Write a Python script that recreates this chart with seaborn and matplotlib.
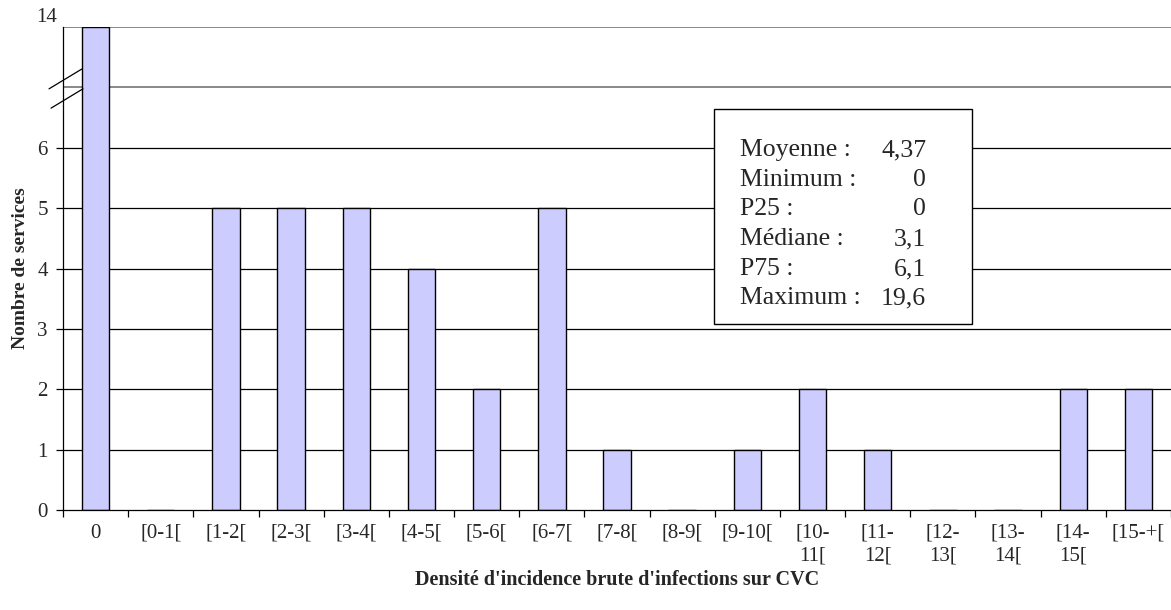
import numpy as np
import pandas as pd
import matplotlib
matplotlib.use("Agg")
import matplotlib.pyplot as plt
import matplotlib.transforms as mtransforms
from matplotlib.patches import Rectangle
import seaborn as sns

# Incidence-density classes and number of wards in each
categories = ["0", "[0-1[", "[1-2[", "[2-3[", "[3-4[", "[4-5[", "[5-6[", "[6-7[",
              "[7-8[", "[8-9[", "[9-10[", "[10-\n11[", "[11-\n12[", "[12-\n13[",
              "[13-\n14[", "[14-\n15[", "[15-+["]
counts = [14, 0, 5, 5, 5, 4, 2, 5, 1, 0, 1, 2, 1, 0, 0, 2, 2]

# Summary statistics shown in the inset box
stat_labels = ["Moyenne :", "Minimum :", "P25 :", "Médiane :", "P75 :", "Maximum :"]
stat_values = ["4,37", "0", "0", "3,1", "6,1", "19,6"]

y_ticks = [0, 1, 2, 3, 4, 5, 6]
y_break = 7
y_top = 14

sns.set_theme(style="white")
plt.rcParams["font.family"] = ["Liberation Serif", "DejaVu Serif"]

df = pd.DataFrame({"classe": categories, "services": counts})

fig = plt.figure(figsize=(11.71, 6.10), dpi=100)
ax = fig.add_axes([63 / 1171, 100 / 610, 1108 / 1171, 483 / 610])

sns.barplot(data=df, x="classe", y="services", ax=ax, color="#CCCCFF",
            saturation=1, width=0.42, edgecolor="black", linewidth=1.0,
            zorder=3)
for p in ax.patches:
    p.set_facecolor("#CCCCFF")


# Broken axis: linear up to the break, compressed above it
def fwd(v):
    v = np.asarray(v, dtype=float)
    return np.where(v <= y_break, v, y_break + (v - y_break) / (y_top - y_break))


def inv(u):
    u = np.asarray(u, dtype=float)
    return np.where(u <= y_break, u, y_break + (u - y_break) * (y_top - y_break))


ax.set_yscale("function", functions=(fwd, inv))
ax.set_ylim(0, y_top)
ax.set_xlim(-0.5, len(categories) - 0.5)

# Horizontal gridlines
for v in y_ticks[1:]:
    ax.axhline(v, color="black", lw=0.9, zorder=1)
for v in (y_break, y_top):
    ax.axhline(v, color="#7f7f7f", lw=1.3, zorder=1)

tick_fs = 15

# Y ticks
ax.set_yticks(y_ticks)
ax.set_yticklabels([str(t) for t in y_ticks])
ax.yaxis.set_minor_locator(matplotlib.ticker.NullLocator())
ax.tick_params(axis="y", which="major", left=True, length=5, width=0.9,
               color="black", pad=6, labelsize=tick_fs)
top_tr = mtransforms.offset_copy(ax.get_yaxis_transform(), fig=fig,
                                 x=0, y=9, units="dots")
ax.text(-0.0055, y_top, str(y_top), transform=top_tr,
        ha="right", va="center", fontsize=tick_fs)

# X ticks at class boundaries, labels at class centres
n = len(categories)
ax.set_xticks(np.arange(-0.5, n, 1.0))
ax.set_xticklabels([""] * (n + 1))
ax.set_xticks(np.arange(n), minor=True)
ax.set_xticklabels(categories, minor=True, fontsize=tick_fs, linespacing=1.25)
ax.tick_params(axis="x", which="major", bottom=True, length=5, width=0.9,
               color="black")
ax.tick_params(axis="x", which="minor", bottom=False, length=0, pad=10)
for lbl in ax.get_xticklabels(minor=True):
    lbl.set_verticalalignment("top")

for side in ("top", "right"):
    ax.spines[side].set_visible(False)
for side in ("left", "bottom"):
    ax.spines[side].set_color("black")
    ax.spines[side].set_linewidth(0.9)
    ax.spines[side].set_zorder(4)

ax.set_xlabel("Densité d'incidence brute d'infections sur CVC",
              fontsize=14.5, fontweight="bold", labelpad=3)
ax.set_ylabel("Nombre de services", fontsize=14, fontweight="bold",
              labelpad=6)

# Break marks on the y axis
for (x0, y0, x1, y1) in [(-0.0126, 0.872, 0.017, 0.913),
                         (-0.0108, 0.832, 0.018, 0.872)]:
    ax.plot([x0, x1], [y0, y1], transform=ax.transAxes, color="black",
            lw=0.9, clip_on=False, zorder=5)

# Statistics box
box = Rectangle((0.5875, 0.385), 0.2329, 0.445, transform=ax.transAxes,
                facecolor="white", edgecolor="black", lw=1.0, zorder=6)
ax.add_patch(box)
line_y = [0.745, 0.683, 0.623, 0.561, 0.499, 0.439]
for lab, val, yy in zip(stat_labels, stat_values, line_y):
    ax.text(0.611, yy, lab, transform=ax.transAxes, ha="left", va="center",
            fontsize=18.5, zorder=7)
    ax.text(0.779, yy, val, transform=ax.transAxes, ha="right", va="center",
            fontsize=18.5, zorder=7)

fig.savefig("out.png", dpi=100)
